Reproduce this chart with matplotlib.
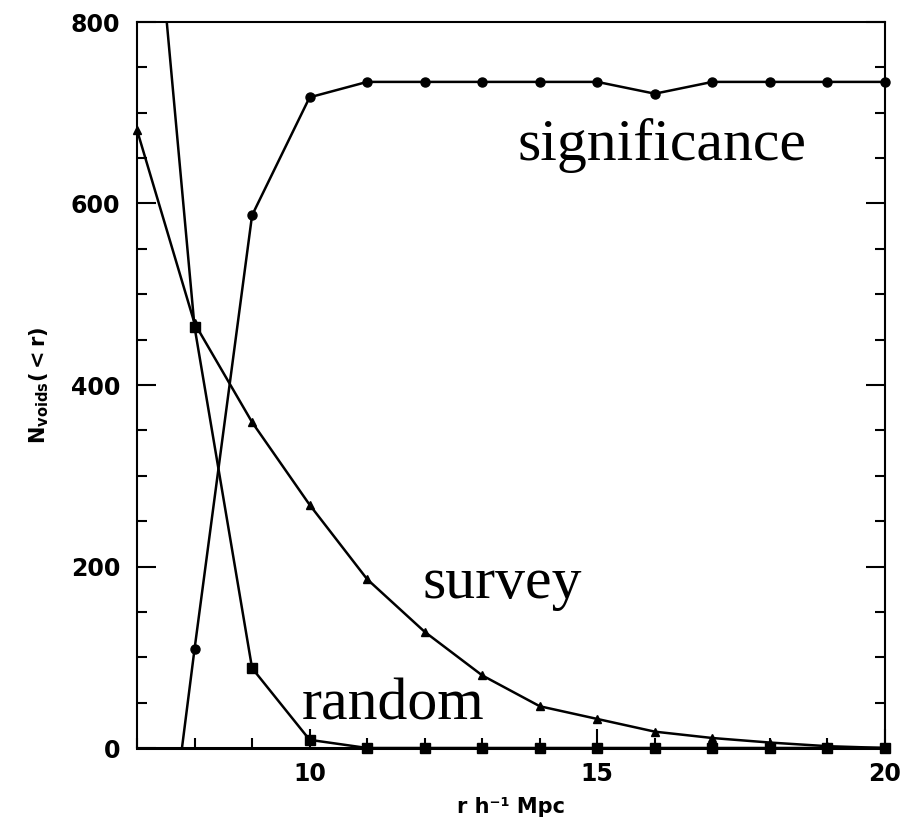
import numpy as np
import matplotlib
matplotlib.use("Agg")
import matplotlib.pyplot as plt
from matplotlib.ticker import MultipleLocator

# void counts vs. radius
radius = [7, 8, 9, 10, 11, 12, 13, 14, 15, 16, 17, 18, 19, 20]
significance = [-390, 109, 587, 717, 734, 734, 734, 734, 734, 721, 734, 734, 734, 734]
survey = [681, 468, 359, 268, 186, 128, 80, 46, 32, 18, 11, 6, 2, 0]
random_voids = [1160, 464, 88, 9, 0, 0, 0, 0, 0, 0, 0, 0, 0, 0]

labels = ["significance", "survey", "random"]
label_pos = [(13.61, 648), (11.97, 165), (9.87, 31)]

YMIN, YMAX = 0, 800


def plot_curve(ax, x, y, marker, ms):
    x = np.asarray(x, float)
    y = np.asarray(y, float)
    ax.plot(x, y, color="black", lw=1.8, zorder=2)
    inside = (y >= YMIN) & (y <= YMAX)
    ax.plot(x[inside], y[inside], ls="none", marker=marker, ms=ms,
            color="black", clip_on=False, zorder=3)


def main():
    fig = plt.figure(figsize=(9, 8.22), dpi=100)
    ax = fig.add_axes([137 / 900, 74 / 822, 748 / 900, 726 / 822])

    plot_curve(ax, radius, significance, "o", 6.5)
    plot_curve(ax, radius, random_voids, "s", 7)
    plot_curve(ax, radius, survey, "^", 6)

    ax.set_xlim(7, 20)
    ax.set_ylim(YMIN, YMAX)

    for (x, y), txt in zip(label_pos, labels):
        ax.text(x, y, txt, family="Liberation Serif", fontsize=43,
                va="baseline", ha="left")

    ax.xaxis.set_major_locator(MultipleLocator(5))
    ax.xaxis.set_minor_locator(MultipleLocator(1))
    ax.yaxis.set_major_locator(MultipleLocator(200))
    ax.yaxis.set_minor_locator(MultipleLocator(50))
    ax.tick_params(which="both", direction="in", top=False, right=True,
                   width=1.5, color="black")
    ax.tick_params(which="major", length=14)
    ax.tick_params(which="minor", length=7)
    ax.tick_params(axis="x", which="major", pad=10)
    ax.tick_params(axis="y", which="major", pad=12)
    for lab in ax.get_xticklabels() + ax.get_yticklabels():
        lab.set_fontweight("bold")
        lab.set_fontsize(17)

    for side in ["left", "right", "top"]:
        ax.spines[side].set_linewidth(1.5)
    ax.spines["bottom"].set_linewidth(2.2)

    ax.set_xlabel("r h⁻¹ Mpc", fontsize=15, fontweight="bold", labelpad=8)
    ax.set_ylabel(r"$\mathbf{N_{voids}({<}r)}$", fontsize=15, labelpad=14)

    fig.savefig("out.png", dpi=100)


if __name__ == "__main__":
    main()
